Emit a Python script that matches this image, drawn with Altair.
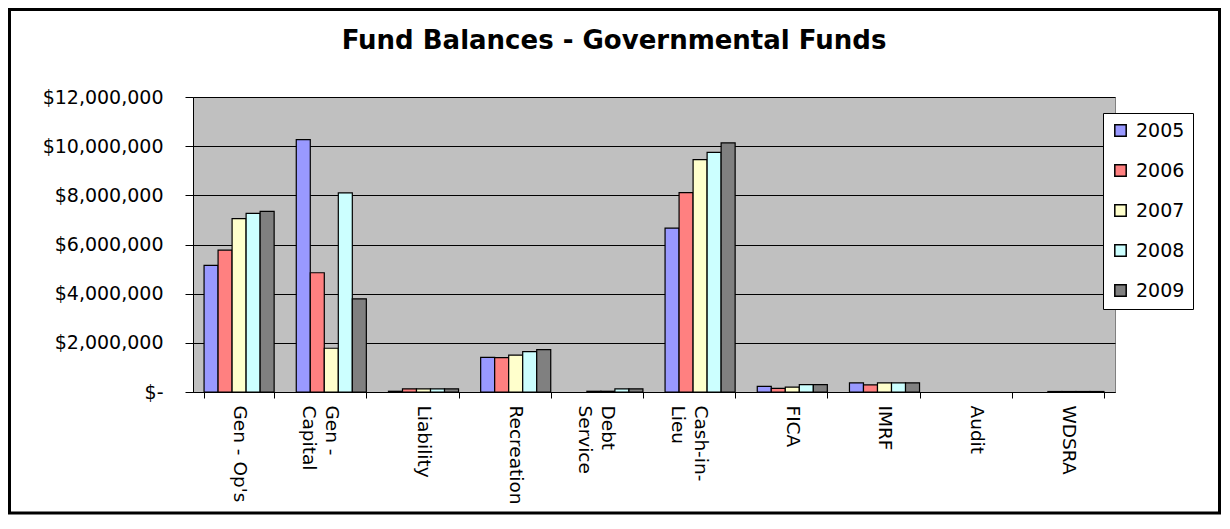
import altair as alt
import pandas as pd

title_text = "Fund Balances - Governmental Funds"
cats = ["Gen - Op's", "Gen - Capital", "Liability", "Recreation", "Debt Service",
        "Cash-in-Lieu", "FICA", "IMRF", "Audit", "WDSRA"]
years = ["2005", "2006", "2007", "2008", "2009"]
v2005 = [5150000, 10270000, 30000, 1410000, None, 6670000, 230000, 370000, None, None]
v2006 = [5770000, 4850000, 130000, 1400000, 30000, 8110000, 150000, 290000, None, 20000]
v2007 = [7050000, 1780000, 130000, 1500000, 30000, 9450000, 200000, 370000, None, 20000]
v2008 = [7270000, 8100000, 130000, 1640000, 130000, 9750000, 300000, 370000, None, 20000]
v2009 = [7350000, 3790000, 130000, 1720000, 130000, 10130000, 300000, 370000, None, 20000]
colors = ["#9999FF", "#FF8080", "#FFFFCC", "#CCFFFF", "#808080"]
y_ticks = [0, 2000000, 4000000, 6000000, 8000000, 10000000, 12000000]

NB = "\u00a0"
multi = {
    "Gen - Capital": [NB + "Gen -", "Capital"],
    "Debt Service": [NB * 2 + "Debt", "Service"],
    "Cash-in-Lieu": ["Cash-in-", NB * 3 + "Lieu"],
}

rows = []
for yr, vals in zip(years, [v2005, v2006, v2007, v2008, v2009]):
    for c, v in zip(cats, vals):
        if v is not None:
            rows.append({"fund": c, "year": yr, "value": v})
df = pd.DataFrame(rows)

expr = "datum.label"
for k, lines in multi.items():
    arr = "[" + ", ".join("'" + s + "'" for s in lines) + "]"
    expr = f"datum.label == '{k}' ? {arr} : ({expr})"

bars = alt.Chart(df).mark_bar(stroke="black", strokeWidth=1.2).encode(
    x=alt.X("fund:N", sort=cats,
            scale=alt.Scale(domain=cats, paddingInner=0.24, paddingOuter=0.12),
            axis=alt.Axis(title=None, labelAngle=90, labelAlign="left", labelBaseline="middle",
                          labelPadding=7, labelFontSize=18.5, labelLineHeight=23,
                          labelColor="black", tickBand="extent", tickSize=6,
                          tickColor="black", domainColor="black", labelExpr=expr)),
    xOffset=alt.XOffset("year:N", sort=years, scale=alt.Scale(paddingInner=0, paddingOuter=0)),
    y=alt.Y("value:Q", scale=alt.Scale(domain=[0, 12000000], nice=False),
            axis=alt.Axis(title=None, values=y_ticks,
                          labelExpr="datum.value == 0 ? '$-' : '$' + format(datum.value, ',.0f')",
                          labelFontSize=19, labelColor="black", labelPadding=22, tickSize=8,
                          tickColor="black", domainColor="black", gridColor="black",
                          gridWidth=1, gridOpacity=1)),
    color=alt.Color("year:N", scale=alt.Scale(domain=years, range=colors),
                    legend=alt.Legend(title=None, orient="none", legendX=910, legendY=16,
                                      fillColor="white", strokeColor="black", padding=8,
                                      symbolType="square", symbolSize=130,
                                      symbolStrokeColor="black", symbolStrokeWidth=1.5,
                                      labelFontSize=19, labelColor="black", rowPadding=20,
                                      labelOffset=6)),
)

title = alt.Chart(pd.DataFrame({"t": [title_text]})).mark_text(
    fontSize=26, fontWeight="bold", color="black", align="center", baseline="middle"
).encode(text="t:N", x=alt.value(421), y=alt.value(-56))

border = alt.Chart(pd.DataFrame({"a": [0]})).mark_rect(
    fillOpacity=0, stroke="black", strokeWidth=3
).encode(x=alt.value(-183.5), x2=alt.value(1026.5), y=alt.value(-87.5), y2=alt.value(416))

chart = alt.layer(bars, title, border).properties(
    width=922, height=295,
    autosize=alt.AutoSizeParams(type="none"),
    padding={"left": 185, "top": 89, "right": 106, "bottom": 125},
).configure(font="DejaVu Sans").configure_view(fill="#C0C0C0", stroke="#808080")

chart.save("out.html", embed_options={"renderer": "svg", "actions": False})
